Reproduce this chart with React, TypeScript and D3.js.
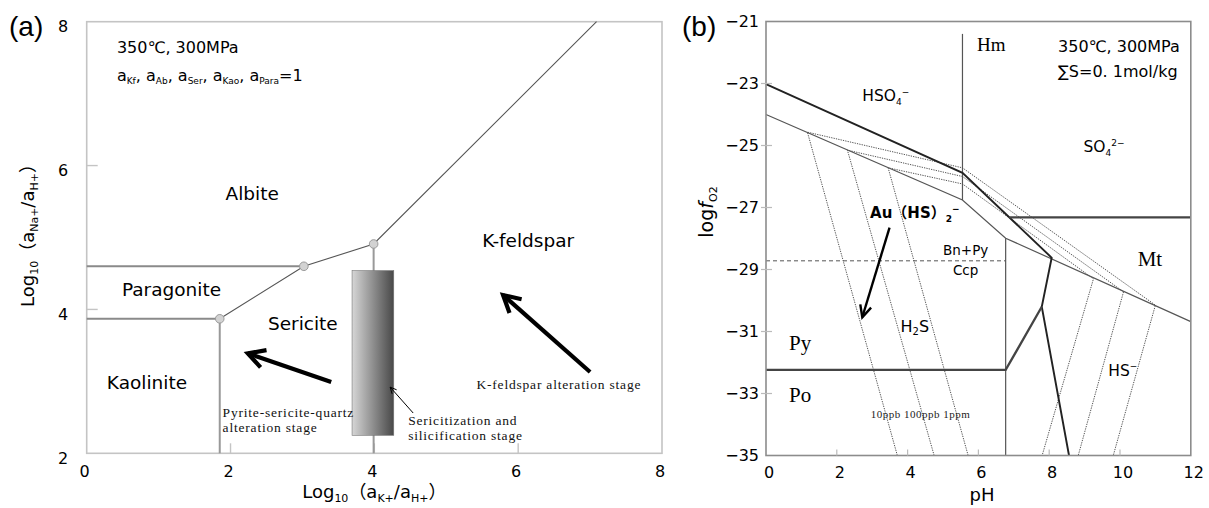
import React from 'react';
import * as d3 from 'd3';

type P = [number, number];

// ---------------- Panel (a) data ----------------
const aXTicks = [0, 2, 4, 6, 8];
const aYTicks = [2, 4, 6, 8];
const aInnerXTicks = [2, 4, 6];
const aInnerYTicks = [4, 6];
const aTriplePoints: P[] = [[1.85, 3.87], [3.02, 4.6], [3.99, 4.91]];
const aHorizontalBoundaries: P[][] = [
  [[0, 3.87], [1.85, 3.87]],
  [[0, 4.6], [3.02, 4.6]],
];
const aVerticalBoundaries: P[][] = [
  [[1.85, 3.87], [1.85, 2]],
  [[3.99, 4.91], [3.99, 2]],
];
const aSlopedBoundary: P[] = [[1.85, 3.87], [3.02, 4.6], [3.99, 4.91], [7.09, 8]];
const aStageBar = { x0: 3.69, x1: 4.27, y0: 2.25, y1: 4.54 };
const aThickArrows: [P, P][] = [
  [[3.4, 2.99], [2.24, 3.39]],
  [[7.0, 3.13], [5.79, 4.2]],
];
const aThinArrow: [P, P] = [[4.54, 2.56], [4.22, 2.92]];
const aFieldNames = ['Albite', 'K-feldspar', 'Paragonite', 'Sericite', 'Kaolinite'];
const aFieldAnchors: P[] = [[1.93, 5.52], [5.5, 4.87], [0.49, 4.18], [2.52, 3.71], [0.28, 2.89]];
const aStageNotes: { lines: string[]; at: P }[] = [
  { lines: ['Pyrite-sericite-quartz', 'alteration stage'], at: [1.89, 2.51] },
  { lines: ['Sericitization and', 'silicification stage'], at: [4.47, 2.39] },
  { lines: ['K-feldspar alteration stage'], at: [5.42, 2.9] },
];
const aActivitySubs = ['Kf', 'Ab', 'Ser', 'Kao', 'Para'];

// ---------------- Panel (b) data ----------------
const bXTicks = [0, 2, 4, 6, 8, 10, 12];
const bYTicks = [-21, -23, -25, -27, -29, -31, -33, -35];
const bIronBoundaries: P[][] = [
  [[0, -23.02], [5.55, -25.88], [8.07, -28.62], [7.79, -30.2], [8.56, -35]],
  [[7.79, -30.2], [6.77, -32.24], [0, -32.24]],
  [[6.87, -27.32], [12, -27.32]],
];
const bSulfurBoundaries: P[][] = [
  [[5.55, -21.4], [5.55, -26.76]],
  [[0, -24.0], [5.55, -26.76], [6.77, -27.99], [12, -30.68]],
  [[6.77, -27.99], [6.77, -35]],
];
const bGold10ppb: P[] = [[3.71, -35], [1.17, -24.57], [5.55, -25.72], [11.0, -30.15], [9.81, -35]];
const bGold100ppb: P[] = [[4.75, -35], [2.3, -25.15], [5.55, -26.0], [10.1, -29.72], [8.82, -35]];
const bGold1ppm: P[] = [[5.71, -35], [3.45, -25.72], [5.55, -26.24], [9.25, -29.3], [7.8, -35]];
const bBornite: P[] = [[0, -28.72], [6.77, -28.72]];
const bAuArrow: [P, P] = [[3.49, -27.65], [2.72, -30.54]];

// ---------------- scales ----------------
const xA = d3.scaleLinear().domain([0, 8]).range([86.7, 662]);
const yA = d3.scaleLinear().domain([2, 8]).range([453.3, 21.7]);
const xB = d3.scaleLinear().domain([0, 12]).range([766, 1190.8]);
const yB = d3.scaleLinear().domain([-21, -35]).range([21.5, 455.5]);
const lineA = d3.line<P>().x((d) => xA(d[0])).y((d) => yA(d[1]));
const lineB = d3.line<P>().x((d) => xB(d[0])).y((d) => yB(d[1]));

const SANS = "'DejaVu Sans', 'Noto Sans CJK SC', sans-serif";
const SERIF = "'Liberation Serif', 'Times New Roman', serif";

function arrowHead(from: P, tip: P, len: number, ang: number): string {
  const a = Math.atan2(tip[1] - from[1], tip[0] - from[0]);
  const p1 = [tip[0] - len * Math.cos(a - ang), tip[1] - len * Math.sin(a - ang)];
  const p2 = [tip[0] - len * Math.cos(a + ang), tip[1] - len * Math.sin(a + ang)];
  return `M${p1[0]},${p1[1]}L${tip[0]},${tip[1]}L${p2[0]},${p2[1]}`;
}

function Arrow({ from, to, width, head, ang }: { from: P; to: P; width: number; head: number; ang: number }) {
  return (
    <g stroke="#000" fill="none" strokeWidth={width} strokeLinejoin="miter" strokeLinecap="butt">
      <line x1={from[0]} y1={from[1]} x2={to[0]} y2={to[1]} />
      <path d={arrowHead(from, to, head, ang)} />
    </g>
  );
}

export default function App() {
  const bar = aStageBar;
  return (
    <svg width={1209} height={508} style={{ position: 'absolute', left: 0, top: 0, background: '#fff' }}>
      <defs>
        <linearGradient id="barGrad" x1="0" x2="1" y1="0" y2="0">
          <stop offset="0%" stopColor="#d6d6d6" />
          <stop offset="100%" stopColor="#484848" />
        </linearGradient>
      </defs>

      {/* ================= Panel (a) ================= */}
      <text x={9} y={36} fontFamily="'Liberation Sans', Arial, sans-serif" fontSize={28}>(a)</text>
      <rect x={xA(0)} y={yA(8)} width={xA(8) - xA(0)} height={yA(2) - yA(8)} fill="none" stroke="#c4c4c4" strokeWidth={1.6} />
      {aInnerXTicks.map((t) => (
        <line key={'ax' + t} x1={xA(t)} x2={xA(t)} y1={yA(2)} y2={yA(2) - 10} stroke="#c4c4c4" strokeWidth={1.4} />
      ))}
      {aInnerYTicks.map((t) => (
        <line key={'ay' + t} x1={xA(0)} x2={xA(0) + 11} y1={yA(t)} y2={yA(t)} stroke="#c4c4c4" strokeWidth={1.4} />
      ))}
      {aXTicks.map((t) => (
        <text key={'axl' + t} x={xA(t) - 2} y={477} textAnchor="middle" fontFamily={SANS} fontSize={16}>{t}</text>
      ))}
      {aYTicks.map((t) => (
        <text key={'ayl' + t} x={63} y={yA(t) + 10.5} textAnchor="middle" fontFamily={SANS} fontSize={16}>{t}</text>
      ))}
      <text x={xA(4)} y={498} textAnchor="middle" fontFamily={SANS} fontSize={18}>
        Log<tspan fontSize={11} dy={4}>10</tspan><tspan dy={-4}>（a</tspan><tspan fontSize={11} dy={4}>K+</tspan>
        <tspan dy={-4}>/a</tspan><tspan fontSize={11} dy={4}>H+</tspan><tspan dy={-4}>）</tspan>
      </text>
      <text transform={`translate(34,231) rotate(-90)`} textAnchor="middle" fontFamily={SANS} fontSize={18}>
        Log<tspan fontSize={11} dy={4}>10</tspan><tspan dy={-4}>（a</tspan><tspan fontSize={11} dy={4}>Na+</tspan>
        <tspan dy={-4}>/a</tspan><tspan fontSize={11} dy={4}>H+</tspan><tspan dy={-4}>）</tspan>
      </text>

      <text x={xA(0.42)} y={yA(7.57)} fontFamily={SANS} fontSize={16}>350℃, 300MPa</text>
      <text x={xA(0.42)} y={yA(7.18)} fontFamily={SANS} fontSize={16}>
        {aActivitySubs.map((s, i) => (
          <React.Fragment key={s}>
            <tspan dy={i === 0 ? 0 : -3.5}>{i === 0 ? 'a' : ', a'}</tspan>
            <tspan fontSize={9} dy={3.5}>{s}</tspan>
          </React.Fragment>
        ))}
        <tspan dy={-3.5}>=1</tspan>
      </text>

      {aHorizontalBoundaries.map((seg, i) => (
        <path key={'ah' + i} d={lineA(seg) || ''} fill="none" stroke="#8a8a8a" strokeWidth={2} />
      ))}
      {aVerticalBoundaries.map((seg, i) => (
        <path key={'av' + i} d={lineA(seg) || ''} fill="none" stroke="#999" strokeWidth={2} />
      ))}
      <path d={lineA(aSlopedBoundary) || ''} fill="none" stroke="#555" strokeWidth={1.1} />

      <rect x={xA(bar.x0)} y={yA(bar.y1)} width={xA(bar.x1) - xA(bar.x0)} height={yA(bar.y0) - yA(bar.y1)}
        fill="url(#barGrad)" stroke="#777" strokeWidth={0.6} />

      {aTriplePoints.map((p, i) => (
        <circle key={'tp' + i} cx={xA(p[0])} cy={yA(p[1])} r={4.3} fill="#d2d2d2" stroke="#9a9a9a" strokeWidth={1} />
      ))}

      {aFieldNames.map((n, i) => (
        <text key={n} x={xA(aFieldAnchors[i][0])} y={yA(aFieldAnchors[i][1])} fontFamily={SANS} fontSize={18.5}>{n}</text>
      ))}

      {aStageNotes.map((note, i) => (
        <text key={'note' + i} x={xA(note.at[0])} y={yA(note.at[1])} fontFamily={SERIF} fontSize={13.5} letterSpacing={0.8} fill="#111">
          {note.lines.map((l, j) => (
            <tspan key={j} x={xA(note.at[0])} dy={j === 0 ? 0 : 15}>{l}</tspan>
          ))}
        </text>
      ))}

      {aThickArrows.map((ar, i) => (
        <Arrow key={'ta' + i} from={[xA(ar[0][0]), yA(ar[0][1])]} to={[xA(ar[1][0]), yA(ar[1][1])]} width={4.2} head={19} ang={0.5} />
      ))}
      <Arrow from={[xA(aThinArrow[0][0]), yA(aThinArrow[0][1])]} to={[xA(aThinArrow[1][0]), yA(aThinArrow[1][1])]} width={1} head={7} ang={0.45} />

      {/* ================= Panel (b) ================= */}
      <text x={682} y={36} fontFamily="'Liberation Sans', Arial, sans-serif" fontSize={28}>(b)</text>

      <path d={lineB(bGold10ppb) || ''} fill="none" stroke="#555" strokeWidth={1} strokeDasharray="1.3 1.1" />
      <path d={lineB(bGold100ppb) || ''} fill="none" stroke="#555" strokeWidth={1} strokeDasharray="1.3 1.1" />
      <path d={lineB(bGold1ppm) || ''} fill="none" stroke="#555" strokeWidth={1} strokeDasharray="1.3 1.1" />
      <path d={lineB(bBornite) || ''} fill="none" stroke="#555" strokeWidth={1} strokeDasharray="4 3" />

      {bSulfurBoundaries.map((seg, i) => (
        <path key={'bs' + i} d={lineB(seg) || ''} fill="none" stroke="#555" strokeWidth={1.2} />
      ))}
      <path d={lineB(bIronBoundaries[0]) || ''} fill="none" stroke="#222" strokeWidth={1.9} />
      <path d={lineB(bIronBoundaries[1]) || ''} fill="none" stroke="#444" strokeWidth={2.3} />
      <path d={lineB(bIronBoundaries[2]) || ''} fill="none" stroke="#444" strokeWidth={2.1} />

      <rect x={xB(0)} y={yB(-21)} width={xB(12) - xB(0)} height={yB(-35) - yB(-21)} fill="none" stroke="#8c8c8c" strokeWidth={1.6} />
      {bXTicks.slice(1, -1).map((t) => (
        <line key={'bxt' + t} x1={xB(t)} x2={xB(t)} y1={yB(-35)} y2={yB(-35) - 6} stroke="#bbb" strokeWidth={1.2} />
      ))}
      {bYTicks.slice(1, -1).map((t) => (
        <line key={'byt' + t} x1={xB(0) - 5} x2={xB(0) + 6} y1={yB(t)} y2={yB(t)} stroke="#bbb" strokeWidth={1.2} />
      ))}
      {bXTicks.map((t) => (
        <text key={'bxl' + t} x={xB(t) + 3} y={478} textAnchor="middle" fontFamily={SANS} fontSize={16}>{t}</text>
      ))}
      {bYTicks.map((t) => (
        <text key={'byl' + t} x={759} y={yB(t) + 5.5} textAnchor="end" fontFamily={SANS} fontSize={16}>{'−' + Math.abs(t)}</text>
      ))}
      <text x={982} y={501} textAnchor="middle" fontFamily={SANS} fontSize={18}>pH</text>
      <text transform={`translate(713,212) rotate(-90)`} textAnchor="middle" fontFamily={SANS} fontSize={19}>
        log<tspan fontStyle="italic">f</tspan><tspan fontSize={11} dy={4}>O2</tspan>
      </text>

      <Arrow from={[xB(bAuArrow[0][0]), yB(bAuArrow[0][1])]} to={[xB(bAuArrow[1][0]), yB(bAuArrow[1][1])]} width={2.4} head={13} ang={0.45} />

      <text x={xB(5.96)} y={yB(-21.94)} fontFamily={SERIF} fontSize={19}>Hm</text>
      <text x={xB(8.25)} y={yB(-21.98)} fontFamily={SANS} fontSize={16}>350℃, 300MPa</text>
      <text x={xB(8.25)} y={yB(-22.79)} fontFamily={SANS} fontSize={16}>∑S=0. 1mol/kg</text>
      <text x={xB(2.72)} y={yB(-23.56)} fontFamily={SANS} fontSize={15.5}>
        HSO<tspan fontSize={9} dy={4}>4</tspan><tspan fontSize={9} dy={-10}>−</tspan>
      </text>
      <text x={xB(8.97)} y={yB(-25.21)} fontFamily={SANS} fontSize={15.5}>
        SO<tspan fontSize={9} dy={4}>4</tspan><tspan fontSize={9} dy={-10}>2−</tspan>
      </text>
      <text x={xB(2.94)} y={yB(-27.35)} fontFamily={SANS} fontSize={15} fontWeight="bold">
        Au（HS）<tspan fontSize={9} dy={4}>2</tspan><tspan fontSize={9} dy={-10}>−</tspan>
      </text>
      <text x={xB(5.64)} y={yB(-28.52)} textAnchor="middle" fontFamily={SANS} fontSize={13.5}>Bn+Py</text>
      <text x={xB(5.64)} y={yB(-29.18)} textAnchor="middle" fontFamily={SANS} fontSize={13.5}>Ccp</text>
      <text x={xB(10.5)} y={yB(-28.9)} fontFamily={SERIF} fontSize={21}>Mt</text>
      <text x={xB(3.8)} y={yB(-31.03)} fontFamily={SANS} fontSize={16}>
        H<tspan fontSize={10} dy={3}>2</tspan><tspan dy={-3}>S</tspan>
      </text>
      <text x={xB(0.65)} y={yB(-31.6)} fontFamily={SERIF} fontSize={21}>Py</text>
      <text x={xB(0.65)} y={yB(-33.26)} fontFamily={SERIF} fontSize={21}>Po</text>
      <text x={xB(2.96)} y={yB(-33.8)} fontFamily={SERIF} fontSize={11} letterSpacing={0.5} fill="#222">10ppb 100ppb 1ppm</text>
      <text x={xB(9.67)} y={yB(-32.43)} fontFamily={SANS} fontSize={15.5}>
        HS<tspan fontSize={9} dy={-7}>−</tspan>
      </text>
    </svg>
  );
}
